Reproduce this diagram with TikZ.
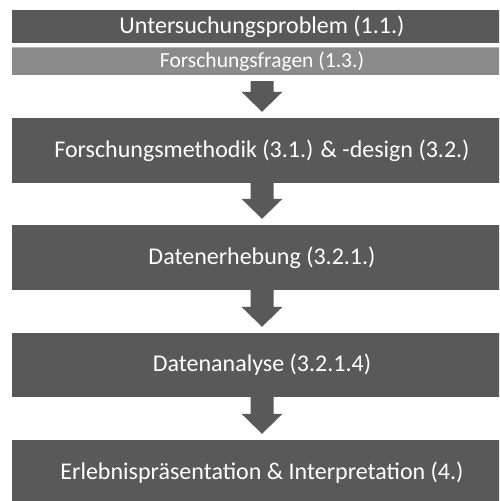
\documentclass[tikz,border=0pt]{standalone}
\usepackage{fontspec}
\setmainfont{Carlito}
\usetikzlibrary{calc}
\definecolor{boxdark}{HTML}{595959}
\definecolor{boxlight}{HTML}{8B8B8B}
\definecolor{boxrim}{HTML}{B4B4B4}
\tikzset{
  stage/.style={fill=boxdark, text=white, inner sep=0pt, minimum width=500,
    font=\fontsize{24}{28}\selectfont},
  substage/.style={fill=boxlight, text=white, inner sep=0pt, minimum width=500,
    minimum height=27, font=\fontsize{21.5}{25}\selectfont},
  arrowfill/.style={fill=boxdark}
}
% block arrow from the bottom of #1 down to the top of #3;
% #2 = gap below #1, the tip stops 6 above #3
\newcommand\flowarrow[3]{%
  \fill[arrowfill] let \p1=(#1.south), \p2=(#3.north) in
    (\x1-11.5pt,\y1-#2) -- (\x1-11.5pt,\y2+26pt) -- (\x1-20.5pt,\y2+26pt)
    -- (\x1,\y2+6pt) -- (\x1+20.5pt,\y2+26pt) -- (\x1+11.5pt,\y2+26pt)
    -- (\x1+11.5pt,\y1-#2) -- cycle;}
\begin{document}
\begin{tikzpicture}[x=1pt,y=-1pt]
  \useasboundingbox (0,0) rectangle (499,501);
  \clip (0,0) rectangle (499,501);
  \node[stage, minimum height=33] (problem) at (262,26.5) {Untersuchungsproblem (1.1.)};
  \node[substage] (fragen) at (262,61.5) {Forschungsfragen (1.3.)};
  \draw[boxrim, line width=1.2pt] (fragen.north west) -- (fragen.north east);
  \node[stage, minimum height=65] (methodik) at (262,150.5) {Forschungsmethodik (3.1.) \& -design (3.2.)};
  \node[stage, minimum height=65] (erhebung) at (262,257.5) {Datenerhebung (3.2.1.)};
  \node[stage, minimum height=64] (analyse) at (262,365) {Datenanalyse (3.2.1.4)};
  \node[stage, minimum height=65] (ergebnis) at (262,472.5) {Erlebnispräsentation \& Interpretation (4.)};
  \flowarrow{fragen}{6pt}{methodik}
  \flowarrow{methodik}{0pt}{erhebung}
  \flowarrow{erhebung}{0pt}{analyse}
  \flowarrow{analyse}{0pt}{ergebnis}
\end{tikzpicture}
\end{document}
